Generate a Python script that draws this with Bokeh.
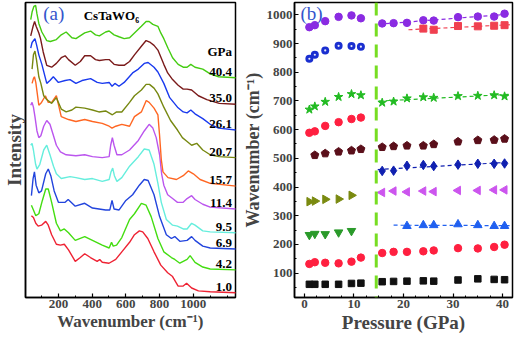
import numpy as np
from bokeh.plotting import figure
from bokeh.layouts import row
from bokeh.models import Range1d, Span, Label, FixedTicker
from bokeh.embed import file_html
from bokeh.resources import INLINE
from bokeh.core.properties import value

FONT = "Liberation Serif"

# ---------------- Panel (a): Raman spectra (intensity in arbitrary, stacked units)
labels_a = ["1.0", "4.2", "6.9", "9.5", "11.4", "15.7", "20.7", "26.1", "35.0", "40.4"]
colors_a = ["#ee2233", "#44dd11", "#2244dd", "#66eedd", "#bb55ee",
            "#ff6622", "#778811", "#1a3aee", "#7a1a1a", "#44cc11"]

w_1_0 = [40, 52, 66, 80, 100, 125, 140, 160, 188, 212, 235, 260, 300, 330, 356, 390, 430, 445, 460, 500, 540, 576, 622, 651, 680, 700, 730, 767, 807, 848, 877, 910, 940, 960, 990, 1030, 1100, 1253]
i_1_0 = [86, 84, 78, 75, 76, 80, 76, 66, 56, 55, 56, 50, 38, 42, 46, 42, 38, 40, 37, 36, 40, 48, 58, 66, 70, 69, 62, 48, 34, 26, 22, 12, 12, 15, 10, 7, 6, 5]

w_4_2 = [40, 52, 66, 84, 105, 125, 140, 160, 188, 212, 235, 260, 300, 356, 402, 460, 501, 515, 525, 545, 576, 622, 651, 692, 720, 750, 790, 825, 870, 890, 920, 963, 981, 1010, 1056, 1100, 1253]
i_4_2 = [97, 92, 86, 88, 102, 114, 114, 100, 78, 70, 72, 68, 60, 64, 60, 55, 52, 58, 54, 55, 63, 82, 88, 99, 97, 85, 62, 48, 42, 40, 36, 40, 44, 37, 32, 30, 29]

w_6_9 = [40, 50, 58, 68, 84, 100, 125, 140, 155, 175, 200, 240, 258, 300, 356, 402, 480, 505, 518, 530, 560, 600, 640, 680, 709, 732, 767, 800, 840, 870, 890, 920, 963, 990, 1010, 1056, 1100, 1253]
i_6_9 = [107, 125, 132, 118, 110, 112, 130, 135, 128, 112, 100, 100, 103, 96, 99, 94, 92, 92, 102, 93, 92, 102, 108, 118, 124, 123, 108, 85, 66, 62, 64, 59, 60, 64, 60, 54, 52, 51]

w_9_5 = [36, 44, 52, 65, 73, 90, 113, 131, 150, 171, 188, 217, 269, 304, 356, 402, 460, 501, 512, 522, 532, 547, 576, 622, 674, 709, 738, 767, 790, 810, 840, 877, 906, 940, 963, 990, 1010, 1056, 1100, 1253]
i_9_5 = [160, 162, 155, 140, 135, 140, 155, 160, 150, 138, 130, 125, 127, 126, 124, 125, 122, 124, 132, 136, 128, 122, 126, 138, 148, 156, 155, 140, 120, 100, 82, 76, 75, 72, 72, 78, 76, 70, 69, 68]

w_11_4 = [36, 44, 52, 61, 73, 84, 96, 113, 131, 150, 171, 188, 212, 246, 304, 356, 402, 460, 501, 510, 520, 530, 547, 576, 622, 674, 709, 738, 760, 780, 800, 812, 825, 848, 877, 906, 940, 963, 990, 1010, 1056, 1100, 1253]
i_11_4 = [202, 205, 200, 190, 175, 168, 170, 180, 186, 182, 170, 160, 153, 150, 149, 150, 148, 147, 148, 160, 168, 160, 150, 150, 155, 165, 175, 182, 178, 168, 150, 130, 118, 108, 104, 100, 100, 104, 107, 103, 98, 95, 93]

w_15_7 = [44, 52, 58, 66, 84, 100, 123, 140, 160, 188, 200, 217, 260, 304, 356, 402, 460, 501, 518, 540, 576, 622, 651, 692, 721, 738, 767, 790, 800, 810, 820, 850, 900, 940, 970, 1000, 1040, 1100, 1253]
i_15_7 = [225, 230, 232, 226, 202, 205, 212, 205, 205, 212, 203, 190, 187, 185, 187, 185, 183, 180, 178, 180, 182, 180, 190, 195, 207, 205, 199, 192, 170, 145, 132, 126, 124, 128, 133, 130, 124, 120, 117]

w_20_7 = [44, 52, 61, 70, 84, 96, 113, 131, 160, 188, 217, 246, 280, 304, 356, 402, 440, 480, 520, 545, 576, 622, 651, 692, 720, 740, 767, 790, 825, 865, 906, 935, 963, 990, 1020, 1056, 1100, 1154, 1253]
i_20_7 = [240, 255, 259, 250, 232, 225, 212, 208, 204, 210, 198, 195, 197, 200, 199, 197, 195, 196, 192, 195, 195, 205, 212, 218, 224, 224, 220, 214, 200, 186, 176, 168, 164, 160, 162, 155, 150, 148, 147]

w_26_1 = [36, 44, 61, 70, 84, 102, 131, 150, 170, 200, 240, 269, 304, 340, 391, 430, 460, 501, 518, 535, 559, 590, 640, 674, 709, 732, 767, 790, 825, 860, 906, 940, 963, 985, 1010, 1056, 1100, 1150, 1253]
i_26_1 = [262, 268, 272, 266, 255, 245, 225, 228, 232, 226, 228, 229, 225, 228, 230, 226, 225, 226, 222, 225, 222, 226, 236, 240, 246, 247, 242, 237, 225, 210, 200, 195, 194, 197, 193, 188, 182, 178, 176]

w_35_0 = [36, 50, 59, 68, 84, 94, 110, 131, 160, 188, 217, 240, 260, 300, 330, 356, 391, 420, 443, 480, 501, 530, 559, 590, 622, 651, 692, 720, 745, 767, 790, 825, 848, 877, 910, 940, 963, 990, 1030, 1080, 1154, 1253]
i_35_0 = [275, 285, 290, 285, 278, 272, 258, 244, 242, 246, 252, 254, 250, 244, 248, 254, 254, 250, 249, 250, 250, 245, 244, 244, 248, 255, 264, 270, 268, 265, 260, 245, 236, 229, 223, 219, 219, 218, 212, 208, 204, 203]

w_40_4 = [36, 44, 55, 65, 73, 84, 102, 131, 152, 188, 217, 246, 280, 304, 356, 391, 420, 443, 480, 501, 530, 559, 590, 622, 651, 692, 720, 738, 760, 790, 807, 825, 850, 877, 910, 940, 963, 985, 1010, 1056, 1100, 1150, 1253]
i_40_4 = [292, 300, 306, 307, 298, 288, 279, 270, 269, 271, 276, 279, 273, 272, 278, 280, 276, 275, 279, 280, 276, 274, 272, 273, 278, 285, 290, 290, 287, 285, 278, 272, 262, 252, 245, 242, 242, 245, 242, 240, 235, 232, 231]

spectra_w = [w_1_0, w_4_2, w_6_9, w_9_5, w_11_4, w_15_7, w_20_7, w_26_1, w_35_0, w_40_4]
spectra_i = [i_1_0, i_4_2, i_6_9, i_9_5, i_11_4, i_15_7, i_20_7, i_26_1, i_35_0, i_40_4]

# ---------------- Panel (b): mode wavenumbers vs pressure
P_low = [1.0, 2.1, 4.2, 6.9, 9.5, 11.4]
P_low5 = [1.0, 2.1, 4.2, 6.9, 9.5]
P_low_b = [2.1, 4.2, 6.9, 9.5, 11.4]
P_high = [15.7, 18.0, 20.7, 24.0, 26.1, 31.0, 35.0, 38.3, 40.4]
P_high7 = [20.7, 24.0, 26.1, 31.0, 35.0, 38.3, 40.4]
P_high6 = [24.0, 26.1, 31.0, 35.0, 38.3, 40.4]

purple_low = [957, 964, 978, 993, 998, 988]
purple_high = [970, 971, 972, 981, 980, 992, 994, 994, 1004]
redsq_high = [952, 948, 961, 960, 962, 964]
sphere_low = [847, 861, 876, 892, 891, 889]
star_low = [670, 681, 697, 714, 724, 720]
star_high = [694, 698, 709, 713, 711, 717, 718, 720, 716]
red600_low = [589, 594, 613, 626, 637, 642]
pent_low = [511, 517, 523, 527, 532]
pent_high = [539, 542, 544, 544, 549, 558, 563, 564, 568]
diamond_high = [456, 457, 474, 477, 473, 478, 481, 481, 482]
ltri_high = [381, 386, 383, 386, 384, 388, 388, 390, 390]
rtri_low = [349, 351, 357, 358, 371]
dtri_low = [233, 237, 236, 242, 247]
utri_high = [264, 267, 267, 270, 267, 264, 264]
red130_low = [132, 138, 136, 134, 140, 154]
red_high = [170, 174, 174, 176, 179, 187, 186, 191, 199]
sq_low = [61, 61, 61, 61, 64, 65]
sq_high = [70, 71, 72, 73, 72, 76, 80, 78, 77]

transition_P = 14.5


def style_axes(p, label_size):
    p.outline_line_color = "black"
    p.outline_line_width = 1.5
    p.xgrid.visible = False
    p.ygrid.visible = False
    for ax in (p.xaxis[0], p.yaxis[0]):
        ax.axis_line_color = "black"
        ax.axis_line_width = 1.5
        ax.major_tick_in = 4
        ax.major_tick_out = 0
        ax.minor_tick_in = 2
        ax.minor_tick_out = 0
        ax.major_tick_line_width = 1.2
        ax.minor_tick_line_width = 1.0
        ax.major_label_text_font = FONT
        ax.major_label_text_font_style = "bold"
        ax.major_label_text_font_size = "13px"
        ax.major_label_standoff = 2
        ax.axis_label_text_font = FONT
        ax.axis_label_text_font_style = "bold"
        ax.axis_label_text_font_size = label_size
        ax.axis_label_standoff = 1


# ---- panel a
pa = figure(frame_width=210, frame_height=295, x_range=Range1d(5, 1250), y_range=Range1d(0, 310),
            output_backend="svg", toolbar_location=None,
            min_border_left=20, min_border_right=4, min_border_top=2, min_border_bottom=33)
style_axes(pa, "17px")
pa.xaxis.ticker = FixedTicker(ticks=[200, 400, 600, 800, 1000],
                              minor_ticks=[100, 300, 500, 700, 900, 1100, 1200])
pa.yaxis.ticker = FixedTicker(ticks=[])
pa.xaxis.axis_label = "Wavenumber (cm\u207b\u00b9)"
pa.yaxis.axis_label = "Intensity"
pa.yaxis.axis_label_text_font_size = "19px"

for w, i, c in zip(spectra_w, spectra_i, colors_a):
    pa.line(w, i, line_color=c, line_width=1.4)

tails_w = [w[-1] for w in spectra_w]
tails_i = [i[-1] for i in spectra_i]
pa.text(x=tails_w, y=tails_i, text=labels_a, x_offset=-4, y_offset=-2,
        text_align="right", text_baseline="bottom", text_font=value(FONT),
        text_font_style="bold", text_font_size="13px", text_color="black")
pa.text(x=[tails_w[-1]], y=[tails_i[-1]], text=["GPa"], x_offset=-4, y_offset=-19,
        text_align="right", text_baseline="bottom", text_font=value(FONT),
        text_font_style="bold", text_font_size="13px", text_color="black")
pa.add_layout(Label(x=110, y=309, text="(a)", text_baseline="top", text_font=FONT,
                    text_font_size="19px", text_color="#3355cc"))
pa.add_layout(Label(x=350, y=304, text="CsTaWO\u2086", text_baseline="top", text_font=FONT,
                    text_font_style="bold", text_font_size="13px", text_color="black"))

# ---- panel b
pb = figure(frame_width=218, frame_height=295, x_range=Range1d(-2, 42), y_range=Range1d(15, 1043),
            output_backend="svg", toolbar_location=None,
            min_border_left=46, min_border_right=2, min_border_top=2, min_border_bottom=33)
style_axes(pb, "18px")
pb.xaxis.ticker = FixedTicker(ticks=[0, 10, 20, 30, 40],
                              minor_ticks=[2.5, 5, 7.5, 12.5, 15, 17.5, 22.5, 25, 27.5, 32.5, 35, 37.5])
pb.yaxis.ticker = FixedTicker(ticks=list(range(100, 1001, 100)),
                              minor_ticks=list(range(50, 1041, 50)))
pb.xaxis.axis_label = "Pressure (GPa)"
pb.xaxis.axis_label_text_font_size = "19px"
pb.yaxis.axis_label = "Wavenumber (cm\u207b\u00b9)"

pb.add_layout(Span(location=transition_P, dimension="height", line_color="#77dd22",
                   line_width=3, line_dash="13 8"))

# dashed linear fits over the high-pressure branches
fits = [
    (P_high, purple_high, "#8a2be2", 15.0, 41.5),
    (P_high6, redsq_high, "#f04050", 21.0, 41.5),
    (P_high, star_high, "#22bb22", 15.0, 41.5),
    (P_high, diamond_high, "#1020b0", 14.8, 41.5),
    (P_high7, utri_high, "#2060f0", 18.0, 41.5),
]
for xs, ys, c, x0, x1 in fits:
    k, b = np.polyfit(xs, ys, 1)
    pb.line([x0, x1], [k * x0 + b, k * x1 + b], line_color=c, line_width=1.2, line_dash="4 3")

S = 7.5
pb.scatter(P_low, purple_low, marker="circle", size=S, color="#8a2be2")
pb.scatter(P_high, purple_high, marker="circle", size=S, color="#8a2be2")
pb.scatter(P_high6, redsq_high, marker="square", size=7, color="#f04050")
pb.scatter(P_low, sphere_low, marker="circle", size=8, fill_color="#1a2fd0", line_color=None)
pb.scatter(P_low, sphere_low, marker="circle", size=2.2, fill_color="white", line_color=None,
           fill_alpha=0.9)
pb.scatter(P_low, star_low, marker="star", size=9, color="#22bb22")
pb.scatter(P_high, star_high, marker="star", size=9, color="#22bb22")
pb.scatter(P_low, red600_low, marker="circle", size=S, color="#ff2040")

pent_ok = False
try:
    pb.ngon(x=P_low_b, y=pent_low, radius=4.2, radius_units="screen", n=5, color="#5a0f1a")
    pb.ngon(x=P_high, y=pent_high, radius=4.2, radius_units="screen", n=5, color="#5a0f1a")
    pent_ok = True
except Exception:
    pent_ok = False
if not pent_ok:
    pb.scatter(P_low_b, pent_low, marker="hex", size=8, color="#5a0f1a")
    pb.scatter(P_high, pent_high, marker="hex", size=8, color="#5a0f1a")

pb.scatter(P_high, diamond_high, marker="diamond", size=9.5, color="#1020b0")
pb.scatter(P_high, ltri_high, marker="triangle", angle=np.pi / 2, size=8.5, color="#cc55ee")
pb.scatter(P_low5, rtri_low, marker="triangle", angle=-np.pi / 2, size=8.5, color="#7a8a10")
pb.scatter(P_low5, dtri_low, marker="inverted_triangle", size=8.5, color="#2a9a2a")
pb.scatter(P_high7, utri_high, marker="triangle", size=8.5, color="#2060f0")
pb.scatter(P_low, red130_low, marker="circle", size=S, color="#ff2040")
pb.scatter(P_high, red_high, marker="circle", size=S, color="#ff2040")
pb.scatter(P_low, sq_low, marker="square", size=6.5, color="#111111")
pb.scatter(P_high, sq_high, marker="square", size=6.5, color="#111111")

pb.add_layout(Label(x=-0.8, y=1040, text="(b)", text_baseline="top", text_font=FONT,
                    text_font_size="19px", text_color="#3355cc"))

layout = row(pa, pb)
open("out.html", "w").write(file_html(layout, INLINE))
